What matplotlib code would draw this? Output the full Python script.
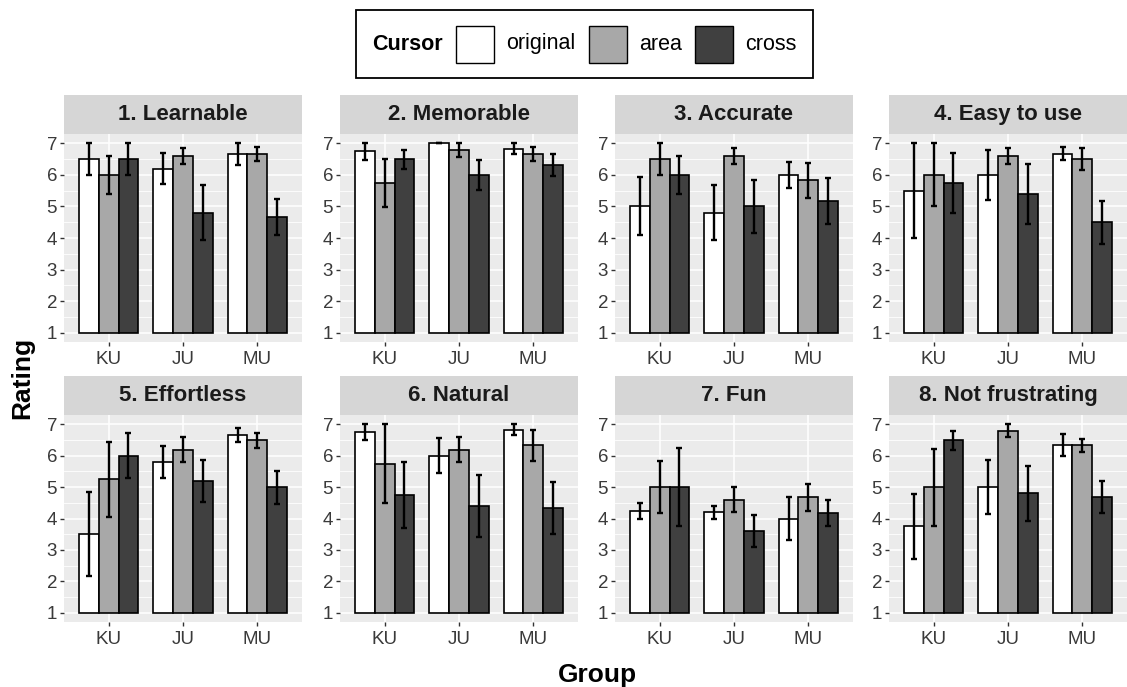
import numpy as np
import matplotlib
matplotlib.use("Agg")
import matplotlib.pyplot as plt
from matplotlib.patches import Rectangle

plt.rcParams['font.family'] = ['Liberation Sans', 'DejaVu Sans']

# data (mean rating and error half-width per group)
groups = ["KU", "JU", "MU"]
cursors = ["original", "area", "cross"]
titles = ["1. Learnable", "2. Memorable", "3. Accurate", "4. Easy to use",
          "5. Effortless", "6. Natural", "7. Fun", "8. Not frustrating"]

mean_original = [[6.5, 6.2, 6.67], [6.75, 7.0, 6.83], [5.0, 4.8, 6.0], [5.5, 6.0, 6.67],
                 [3.5, 5.8, 6.67], [6.75, 6.0, 6.83], [4.25, 4.2, 4.0], [3.75, 5.0, 6.33]]
mean_area = [[6.0, 6.6, 6.67], [5.75, 6.8, 6.67], [6.5, 6.6, 5.83], [6.0, 6.6, 6.5],
             [5.25, 6.2, 6.5], [5.75, 6.2, 6.33], [5.0, 4.6, 4.67], [5.0, 6.8, 6.33]]
mean_cross = [[6.5, 4.8, 4.67], [6.5, 6.0, 6.33], [6.0, 5.0, 5.17], [5.75, 5.4, 4.5],
              [6.0, 5.2, 5.0], [4.75, 4.4, 4.33], [5.0, 3.6, 4.17], [6.5, 4.8, 4.67]]

err_original = [[0.5, 0.49, 0.35], [0.26, 0.0, 0.17], [0.92, 0.87, 0.4], [1.5, 0.78, 0.21],
                [1.33, 0.5, 0.22], [0.25, 0.56, 0.18], [0.25, 0.2, 0.7], [1.03, 0.85, 0.35]]
err_area = [[0.6, 0.24, 0.22], [0.77, 0.22, 0.22], [0.5, 0.24, 0.55], [1.0, 0.25, 0.34],
            [1.2, 0.4, 0.24], [1.26, 0.4, 0.5], [0.84, 0.39, 0.42], [1.23, 0.21, 0.21]]
err_cross = [[0.5, 0.87, 0.56], [0.3, 0.47, 0.35], [0.6, 0.83, 0.74], [0.96, 0.94, 0.68],
             [0.72, 0.68, 0.53], [1.05, 0.99, 0.82], [1.24, 0.52, 0.41], [0.3, 0.87, 0.51]]

means = [mean_original, mean_area, mean_cross]
errs = [err_original, err_area, err_cross]
fills = ["#FFFFFF", "#A8A8A8", "#404040"]

W, H = 1127, 687
fig = plt.figure(figsize=(W / 100, H / 100), dpi=100)


def fx(px):
    return px / W


def fy(py):
    return 1 - py / H


col_x = [64, 340, 615, 889]
pan_w = 238
rows = [(134, 342), (415, 622)]
strip_h = 39
bar_w = 0.8 / 3

for i, title in enumerate(titles):
    r, c = divmod(i, 4)
    top, bot = rows[r]
    x0 = col_x[c]
    ax = fig.add_axes([fx(x0), fy(bot), pan_w / W, (bot - top) / H])
    ax.set_facecolor("#EBEBEB")
    for y in np.arange(1.5, 7, 1.0):
        ax.axhline(y, color="white", lw=0.6, zorder=0)
    for y in range(1, 8):
        ax.axhline(y, color="white", lw=1.1, zorder=0)
    for xg in range(3):
        ax.axvline(xg, color="white", lw=1.1, zorder=0)

    x = np.arange(len(groups))
    for k in range(3):
        xs = x + (k - 1) * bar_w
        m = np.array(means[k][i])
        ax.bar(xs, m - 1, bottom=1, width=bar_w, color=fills[k],
               edgecolor="black", linewidth=1.2, zorder=2)
        ax.errorbar(xs, m, yerr=errs[k][i], fmt="none", ecolor="black",
                    elinewidth=1.7, capsize=2, capthick=1.7, zorder=3)

    ax.set_xlim(-0.6, 2.6)
    ax.set_ylim(0.7, 7.3)
    ax.set_xticks(x)
    ax.set_xticklabels(groups)
    ax.set_yticks(range(1, 8))
    ax.tick_params(length=3, width=1, color="#333333", labelcolor="#3A3A3A",
                   labelsize=13.5)
    ax.tick_params(axis="y", pad=2)
    for s in ax.spines.values():
        s.set_visible(False)

    sax = fig.add_axes([fx(x0), fy(top), pan_w / W, strip_h / H])
    sax.set_facecolor("#D6D6D6")
    sax.set_xticks([])
    sax.set_yticks([])
    for s in sax.spines.values():
        s.set_visible(False)
    sax.text(0.5, 0.5, title, ha="center", va="center", fontsize=16,
             fontweight="bold", color="#1A1A1A", transform=sax.transAxes)

# axis titles
fig.text(fx(22), fy(378), "Rating", rotation=90, ha="center", va="center",
         fontsize=19, fontweight="bold")
fig.text(fx(597), fy(675), "Group", ha="center", va="center",
         fontsize=19, fontweight="bold")

# legend box on top
fig.patches.append(Rectangle((fx(356), fy(78)), (813 - 356) / W, (78 - 10) / H,
                             transform=fig.transFigure, facecolor="white",
                             edgecolor="black", lw=1.3))
fig.text(fx(372), fy(44), "Cursor", ha="left", va="center", fontsize=15.5,
         fontweight="bold")
key_x = [456, 589, 695]
for k, name in enumerate(cursors):
    fig.patches.append(Rectangle((fx(key_x[k]), fy(63)), 38 / W, 37 / H,
                                 transform=fig.transFigure, facecolor=fills[k],
                                 edgecolor="black", lw=1.0))
    fig.text(fx(key_x[k] + 50), fy(44), name, ha="left", va="center",
             fontsize=15.5)

fig.savefig("out.png", dpi=100)
